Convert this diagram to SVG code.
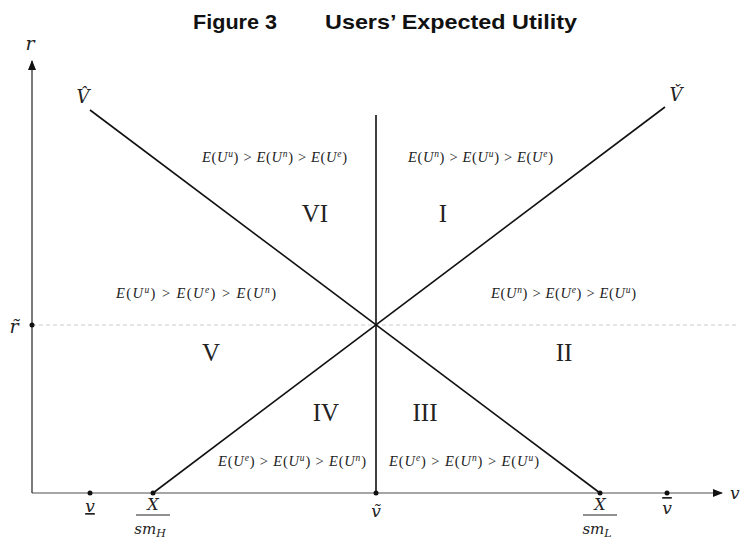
<svg xmlns="http://www.w3.org/2000/svg" width="743" height="542" viewBox="0 0 743 542">
<style>
.title{font-family:"Liberation Sans",Arial,sans-serif;font-weight:bold;font-size:21px;fill:#111}
.m{font-family:"DejaVu Serif","Liberation Serif",serif;font-style:italic;fill:#222}
.f{font-family:"Liberation Serif","Times New Roman",serif;font-size:14.5px;fill:#222}
.f .i{font-style:italic}
.f .s{font-style:italic;font-size:9.5px}
.rn{font-family:"Liberation Serif","Times New Roman",serif;font-size:25px;fill:#222;text-anchor:middle}
.ln{stroke:#111;stroke-width:1.6;fill:none}
.ax{stroke:#888;stroke-width:1.6;fill:none}
</style>
<defs>
<marker id="ah" markerWidth="10" markerHeight="8" refX="9" refY="4" orient="auto" markerUnits="userSpaceOnUse">
<path d="M0,0 L10,4 L0,8 Z" fill="#111"/>
</marker>
</defs>
<rect width="743" height="542" fill="#fff"/>
<text class="title" x="193" y="29" textLength="84" lengthAdjust="spacingAndGlyphs">Figure 3</text>
<text class="title" x="325" y="29" textLength="252" lengthAdjust="spacingAndGlyphs">Users’ Expected Utility</text>
<g id="connectors">
<line class="ax" x1="32" y1="493" x2="722" y2="493" marker-end="url(#ah)"/>
<line x1="32" y1="493" x2="32" y2="61" stroke="#333" stroke-width="1.3" marker-end="url(#ah)"/>
<line x1="32" y1="325" x2="737" y2="325" stroke="#ccc" stroke-width="1" stroke-dasharray="4,3"/>
<line class="ln" x1="90" y1="110" x2="600" y2="493"/>
<line class="ln" x1="153" y1="493" x2="665" y2="107"/>
<line class="ln" x1="376" y1="115" x2="376" y2="493"/>
</g>
<g id="points" fill="#111">
<circle cx="32" cy="325" r="2.5"/>
<circle cx="90" cy="493" r="2.5"/>
<circle cx="153" cy="493" r="2.5"/>
<circle cx="376" cy="493" r="2.5"/>
<circle cx="600" cy="493" r="2.5"/>
<circle cx="667" cy="493" r="2.5"/>
</g>
<g id="axis-labels">
<text class="m" x="30" y="50" font-size="19" text-anchor="middle">r</text>
<text class="m" x="14" y="333" font-size="19" text-anchor="middle">r̃</text>
<text class="m" x="730" y="499" font-size="17">v</text>
<text class="m" x="83" y="103" font-size="18" text-anchor="middle">V̂</text>
<text class="m" x="676" y="101" font-size="18" text-anchor="middle">V̌</text>
<text class="m" x="90" y="512" font-size="17" text-anchor="middle" text-decoration="underline">v</text>
<text class="m" x="153" y="510" font-size="16" text-anchor="middle">X</text>
<line x1="136" y1="515" x2="170" y2="515" stroke="#222" stroke-width="1"/>
<text class="m" x="150" y="534" font-size="15" text-anchor="middle">sm<tspan font-size="11" dy="3">H</tspan></text>
<text class="m" x="376" y="517" font-size="17" text-anchor="middle">ṽ</text>
<text class="m" x="600" y="510" font-size="16" text-anchor="middle">X</text>
<line x1="583" y1="515" x2="617" y2="515" stroke="#222" stroke-width="1"/>
<text class="m" x="597" y="534" font-size="15" text-anchor="middle">sm<tspan font-size="11" dy="3">L</tspan></text>
<text class="m" x="667" y="514" font-size="17" text-anchor="middle" text-decoration="overline">v</text>
</g>
<g id="region-VI"><text class="rn" x="315" y="222">VI</text>
<text class="f" x="202" y="162" textLength="145"><tspan class="i">E</tspan>(<tspan class="i">U</tspan><tspan class="s" dy="-5">u</tspan><tspan dy="5">) &gt; </tspan><tspan class="i">E</tspan>(<tspan class="i">U</tspan><tspan class="s" dy="-5">n</tspan><tspan dy="5">) &gt; </tspan><tspan class="i">E</tspan>(<tspan class="i">U</tspan><tspan class="s" dy="-5">e</tspan><tspan dy="5">)</tspan></text></g>
<g id="region-I"><text class="rn" x="443" y="222">I</text>
<text class="f" x="408" y="162" textLength="145"><tspan class="i">E</tspan>(<tspan class="i">U</tspan><tspan class="s" dy="-5">n</tspan><tspan dy="5">) &gt; </tspan><tspan class="i">E</tspan>(<tspan class="i">U</tspan><tspan class="s" dy="-5">u</tspan><tspan dy="5">) &gt; </tspan><tspan class="i">E</tspan>(<tspan class="i">U</tspan><tspan class="s" dy="-5">e</tspan><tspan dy="5">)</tspan></text></g>
<g id="region-V"><text class="rn" x="211" y="361">V</text>
<text class="f" x="116" y="298" textLength="160"><tspan class="i">E</tspan>(<tspan class="i">U</tspan><tspan class="s" dy="-5">u</tspan><tspan dy="5">) &gt; </tspan><tspan class="i">E</tspan>(<tspan class="i">U</tspan><tspan class="s" dy="-5">e</tspan><tspan dy="5">) &gt; </tspan><tspan class="i">E</tspan>(<tspan class="i">U</tspan><tspan class="s" dy="-5">n</tspan><tspan dy="5">)</tspan></text></g>
<g id="region-II"><text class="rn" x="564" y="361">II</text>
<text class="f" x="491" y="298" textLength="145"><tspan class="i">E</tspan>(<tspan class="i">U</tspan><tspan class="s" dy="-5">n</tspan><tspan dy="5">) &gt; </tspan><tspan class="i">E</tspan>(<tspan class="i">U</tspan><tspan class="s" dy="-5">e</tspan><tspan dy="5">) &gt; </tspan><tspan class="i">E</tspan>(<tspan class="i">U</tspan><tspan class="s" dy="-5">u</tspan><tspan dy="5">)</tspan></text></g>
<g id="region-IV"><text class="rn" x="326" y="421">IV</text>
<text class="f" x="218" y="466" textLength="148"><tspan class="i">E</tspan>(<tspan class="i">U</tspan><tspan class="s" dy="-5">e</tspan><tspan dy="5">) &gt; </tspan><tspan class="i">E</tspan>(<tspan class="i">U</tspan><tspan class="s" dy="-5">u</tspan><tspan dy="5">) &gt; </tspan><tspan class="i">E</tspan>(<tspan class="i">U</tspan><tspan class="s" dy="-5">n</tspan><tspan dy="5">)</tspan></text></g>
<g id="region-III"><text class="rn" x="425" y="421">III</text>
<text class="f" x="389" y="466" textLength="150"><tspan class="i">E</tspan>(<tspan class="i">U</tspan><tspan class="s" dy="-5">e</tspan><tspan dy="5">) &gt; </tspan><tspan class="i">E</tspan>(<tspan class="i">U</tspan><tspan class="s" dy="-5">n</tspan><tspan dy="5">) &gt; </tspan><tspan class="i">E</tspan>(<tspan class="i">U</tspan><tspan class="s" dy="-5">u</tspan><tspan dy="5">)</tspan></text></g>
</svg>
